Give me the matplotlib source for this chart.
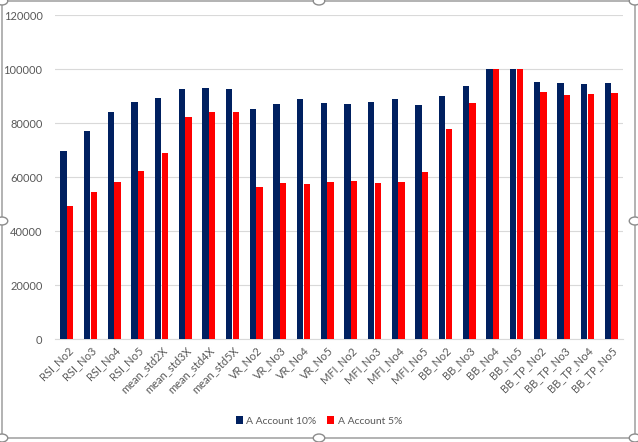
import matplotlib
matplotlib.use("Agg")
import matplotlib.pyplot as plt
from matplotlib.patches import FancyBboxPatch, Circle
import numpy as np

strategies = ["RSI_No2", "RSI_No3", "RSI_No4", "RSI_No5",
              "mean_std2X", "mean_std3X", "mean_std4X", "mean_std5X",
              "VR_No2", "VR_No3", "VR_No4", "VR_No5",
              "MFI_No2", "MFI_No3", "MFI_No4", "MFI_No5",
              "BB_No2", "BB_No3", "BB_No4", "BB_No5",
              "BB_TP_No2", "BB_TP_No3", "BB_TP_No4", "BB_TP_No5"]
account_10 = [69600, 77000, 84100, 87800,
              89300, 92600, 93000, 92600,
              85200, 87000, 88900, 87400,
              87000, 87800, 88900, 86700,
              90000, 93700, 100000, 100000,
              95200, 94800, 94400, 94800]
account_5 = [49400, 54400, 58100, 62200,
             68900, 82200, 84100, 84100,
             56300, 57800, 57400, 58100,
             58500, 57800, 58100, 61900,
             77800, 87400, 100000, 100000,
             91500, 90400, 90700, 91100]
yticks = [0, 20000, 40000, 60000, 80000, 100000, 120000]

plt.rcParams['font.family'] = ['Lato', 'DejaVu Sans']
txt = '#595959'

fig = plt.figure(figsize=(6.38, 4.42), dpi=100)
ax = fig.add_axes([55/638, 1-339/442, 568/638, 324/442])

x = np.arange(len(strategies))
w = 0.27
ax.bar(x - w/2 - 0.01, account_10, w, color='#002060', label='A Account 10%', zorder=3)
ax.bar(x + w/2 + 0.01, account_5, w, color='#FF0000', label='A Account 5%', zorder=3)

ax.set_xlim(-0.5, len(strategies) - 0.5)
ax.set_ylim(0, 120000)
ax.set_yticks(yticks)
ax.set_yticklabels([str(v) for v in yticks], fontsize=8, color=txt)
ax.set_xticks(x)
ax.set_xticklabels(strategies, rotation=45, ha='right', rotation_mode='anchor',
                   fontsize=8, color=txt)
ax.tick_params(length=0, pad=9)
ax.tick_params(axis='x', pad=4)
ax.grid(axis='y', color='#D9D9D9', lw=0.8, zorder=0)
for s in ['top', 'right', 'left']:
    ax.spines[s].set_visible(False)
ax.spines['bottom'].set_color('#D9D9D9')

fig.legend(loc='center', bbox_to_anchor=(0.5, 1-421/442), ncol=2, frameon=False,
           fontsize=7.5, labelcolor=txt, handlelength=0.7, handleheight=0.7,
           handletextpad=0.3, columnspacing=1.0)

# chart frame with selection handles
frame = FancyBboxPatch((2/638, 4/442), 633/638, 437/442,
                       boxstyle='round,pad=0,rounding_size=0.01',
                       transform=fig.transFigure, fill=False,
                       edgecolor='#A6A6A6', lw=1.2)
fig.patches.append(frame)
for hx, hy in [(2, 1), (319, 1), (635, 1), (2, 221), (635, 221),
               (2, 438), (319, 438), (635, 438)]:
    fig.patches.append(Circle((hx/638, 1-hy/442), 0.009, transform=fig.transFigure,
                              facecolor='white', edgecolor='#8C8C8C', lw=1.0))

fig.savefig('out.png', dpi=100)
